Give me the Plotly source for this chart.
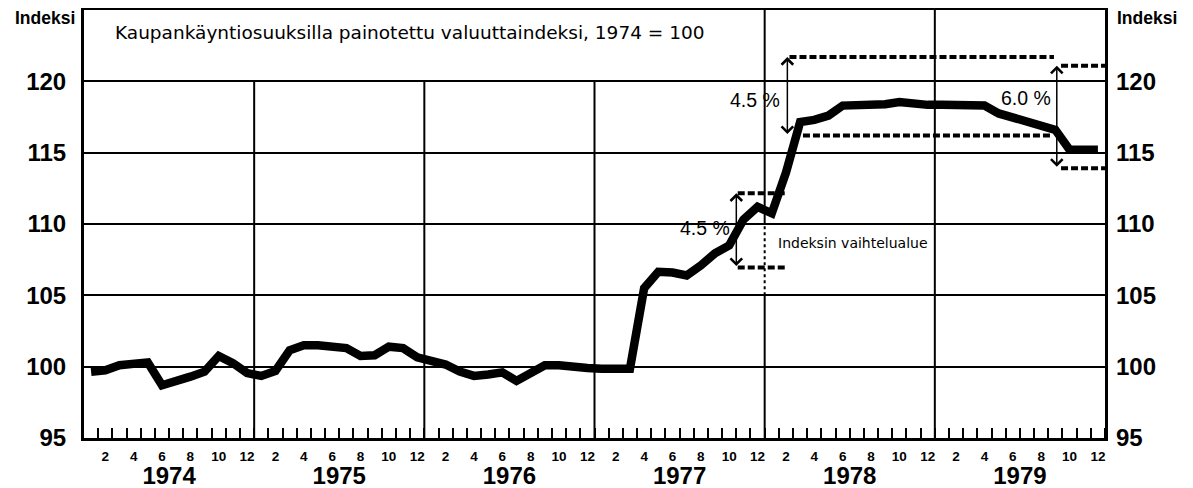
import plotly.graph_objects as go

# monthly index values, trade-weighted currency index (1974 = 100)
years = [1974, 1975, 1976, 1977, 1978, 1979]
idx_1974 = [99.65, 99.75, 100.1, 100.2, 100.3, 98.7, 98.95, 99.3, 99.65, 100.75, 100.25, 99.55]
idx_1975 = [99.35, 99.7, 101.15, 101.5, 101.5, 101.4, 101.3, 100.75, 100.8, 101.4, 101.3, 100.65]
idx_1976 = [100.35, 100.15, 99.65, 99.35, 99.45, 99.6, 99.0, 99.55, 100.1, 100.1, 99.95, 99.9]
idx_1977 = [99.85, 99.85, 99.85, 105.5, 106.65, 106.6, 106.4, 107.1, 107.95, 108.5, 110.3, 111.2]
idx_1978 = [110.75, 113.6, 117.15, 117.3, 117.6, 118.3, 118.3, 118.3, 118.4, 118.55, 118.4, 118.35]
idx_1979 = [118.35, 118.35, 118.35, 118.3, 117.75, 117.45, 117.3, 117.0, 116.6, 115.2, 115.2, 115.2]
month_labels = ["2", "4", "6", "8", "10", "12"]

# fluctuation bands (x in months from Jan 1974)
band_hi = [112.15, 121.7, 121.1]
band_lo = [106.95, 116.2, 113.9]
band_pct = ["4.5 %", "4.5 %", "6.0 %"]
band_arrow_x = [45.5, 49.1, 68.1]
band_hi_x = [(45.6, 49.0), (49.25, 67.9), (68.4, 71.5)]
band_lo_x = [(45.6, 49.0), (50.2, 67.8), (68.4, 71.5)]

y_ticks = [95, 100, 105, 110, 115, 120]

values = idx_1974 + idx_1975 + idx_1976 + idx_1977 + idx_1978 + idx_1979
n = len(values)
FONT = "Liberation Sans, Arial, Helvetica, sans-serif"
WIDE = "DejaVu Sans, Liberation Sans, sans-serif"

fig = go.Figure()

# dashed band limits
for (hx0, hx1), (lx0, lx1), hi, lo in zip(band_hi_x, band_lo_x, band_hi, band_lo):
    for xs, yv in (((hx0, hx1), hi), ((lx0, lx1), lo)):
        fig.add_trace(go.Scatter(x=list(xs), y=[yv, yv], mode="lines",
                                 line=dict(color="black", width=4, dash="7px,3px"),
                                 hoverinfo="skip", showlegend=False))

fig.add_trace(go.Scatter(x=list(range(n)), y=values, mode="lines",
                         line=dict(color="black", width=8.5),
                         showlegend=False))

# dummy traces so the overlay axes are drawn
fig.add_trace(go.Scatter(x=[0], y=[95], xaxis="x2", yaxis="y", mode="markers",
                         marker=dict(opacity=0), hoverinfo="skip", showlegend=False))
fig.add_trace(go.Scatter(x=[0], y=[95], xaxis="x", yaxis="y2", mode="markers",
                         marker=dict(opacity=0), hoverinfo="skip", showlegend=False))

# vertical year gridlines; the first three stop under the title box
boundaries = [12 * k - 0.5 for k in range(1, len(years))]
for k, b in enumerate(boundaries):
    top = 120 if k < 3 else 125
    if k == 3:
        fig.add_shape(type="line", x0=b, x1=b, y0=95, y1=105, line=dict(color="black", width=2))
        fig.add_shape(type="line", x0=b, x1=b, y0=105, y1=110,
                      line=dict(color="black", width=2, dash="3px,3px"))
        fig.add_shape(type="line", x0=b, x1=b, y0=110, y1=top, line=dict(color="black", width=2))
    else:
        fig.add_shape(type="line", x0=b, x1=b, y0=95, y1=top, line=dict(color="black", width=2))

# double arrows and percent labels
for ax_x, hi, lo in zip(band_arrow_x, band_hi, band_lo):
    fig.add_annotation(x=ax_x, y=hi, ax=ax_x, ay=lo, axref="x", ayref="y",
                       text="", showarrow=True, arrowside="end+start",
                       arrowhead=4, startarrowhead=4, arrowsize=1.5, startarrowsize=1.5,
                       arrowwidth=1.5, arrowcolor="black")

label_pos = [(45.2, 109.7), (48.75, 118.7), (67.85, 118.8)]
for (lx, ly), pct in zip(label_pos, band_pct):
    fig.add_annotation(x=lx, y=ly, text=pct, showarrow=False, xanchor="right", yanchor="middle",
                       font=dict(family=FONT, size=19.5, color="black"))

fig.add_annotation(x=48.3, y=108.65, text="Indeksin vaihtelualue", showarrow=False,
                   xanchor="left", yanchor="middle",
                   font=dict(family=WIDE, size=14, color="black"))

fig.add_annotation(xref="paper", yref="paper", x=0.028, y=0.948, xanchor="left", yanchor="middle",
                   text="Kaupankäyntiosuuksilla painotettu valuuttaindeksi, 1974 = 100",
                   showarrow=False, font=dict(family=WIDE, size=18.5, color="black"))

for xp, anchor in ((-0.007, "right"), (1.01, "left")):
    fig.add_annotation(xref="paper", yref="paper", x=xp, y=0.982, xanchor=anchor, yanchor="middle",
                       text="<b>Indeksi</b>", showarrow=False,
                       font=dict(family=FONT, size=17.5, color="black"))

month_ticks = [12 * k + int(m) - 1 for k in range(len(years)) for m in month_labels]
month_text = [m for _ in years for m in month_labels]

# page body has an 8px margin, so the figure is 8px smaller and shifted
fig.update_layout(
    width=1185, height=480,
    margin=dict(l=76, r=88, t=2, b=50, autoexpand=False),
    paper_bgcolor="white", plot_bgcolor="white",
    font=dict(family=FONT, color="black"),
    xaxis=dict(range=[-0.5, n - 0.5], tickmode="array", tickvals=month_ticks, ticktext=month_text,
               ticks="", ticklabelstandoff=4, showgrid=False, zeroline=False, automargin=False,
               tickfont=dict(family=FONT, size=13.5, color="black", weight="bold"),
               showline=True, linecolor="black", linewidth=3, mirror=True,
               minor=dict(tickmode="array", tickvals=[i + 0.5 for i in range(n)],
                          ticks="inside", ticklen=10, tickwidth=2, tickcolor="black", showgrid=False)),
    xaxis2=dict(overlaying="x", anchor="y", side="bottom", range=[-0.5, n - 0.5],
                tickmode="array", tickvals=[12 * k + 5.5 for k in range(len(years))],
                ticktext=[str(y) for y in years], ticks="", ticklabelstandoff=21,
                showgrid=False, zeroline=False, showline=False, automargin=False,
                tickfont=dict(family=FONT, size=24, color="black", weight="bold")),
    yaxis=dict(range=[95, 125], tickmode="array", tickvals=y_ticks, ticks="",
               ticklabelstandoff=10, showgrid=True, gridcolor="black", gridwidth=2,
               zeroline=False, showline=True, linecolor="black", linewidth=3, mirror=True,
               automargin=False,
               tickfont=dict(family=FONT, size=24, color="black", weight="bold")),
    yaxis2=dict(overlaying="y", side="right", anchor="x", range=[95, 125], tickmode="array",
                tickvals=y_ticks, ticks="", ticklabelstandoff=10, showgrid=False,
                zeroline=False, showline=False, automargin=False,
                tickfont=dict(family=FONT, size=24, color="black", weight="bold")),
)

fig.write_html("out.html")
